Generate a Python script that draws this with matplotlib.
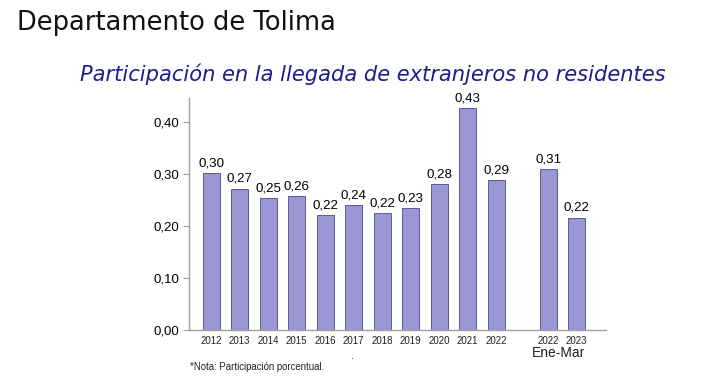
import matplotlib.pyplot as plt

# data
YEARS = ["2012", "2013", "2014", "2015", "2016", "2017", "2018", "2019", "2020", "2021", "2022",
         "2022", "2023"]
VALUES = [0.302, 0.272, 0.253, 0.257, 0.221, 0.240, 0.225, 0.234, 0.280, 0.427, 0.288,
          0.310, 0.216]
LABELS = ["0,30", "0,27", "0,25", "0,26", "0,22", "0,24", "0,22", "0,23", "0,28", "0,43", "0,29",
          "0,31", "0,22"]
POSITIONS = [0, 1, 2, 3, 4, 5, 6, 7, 8, 9, 10, 11.82, 12.82]
Y_TICKS = [0.0, 0.1, 0.2, 0.3, 0.4]
Y_TICK_LABELS = ["0,00", "0,10", "0,20", "0,30", "0,40"]

BAR_COLOR = "#9b97d5"
EDGE_COLOR = "#5b5a95"
AXIS_COLOR = "#a0a0a0"
SUBTITLE_COLOR = "#1c1c8c"


def main():
    fig = plt.figure(figsize=(7.2, 3.91), dpi=100)
    ax = fig.add_axes([189 / 720, 1 - 330 / 391, (606 - 189) / 720, (330 - 98) / 391])

    ax.bar(POSITIONS, VALUES, width=0.6, color=BAR_COLOR, edgecolor=EDGE_COLOR, linewidth=0.7)
    for x, v, lab in zip(POSITIONS, VALUES, LABELS):
        ax.text(x, v + 0.007, lab, ha="center", va="bottom", fontsize=9.6, family="Liberation Sans")

    ax.set_xlim(-0.78, 13.85)
    ax.set_ylim(0, 0.446)
    ax.set_yticks(Y_TICKS)
    ax.set_yticklabels(Y_TICK_LABELS, fontsize=9.5, family="Liberation Sans")
    ax.set_xticks(POSITIONS)
    ax.set_xticklabels(YEARS, fontsize=7, family="Liberation Sans", color="#222222")
    ax.tick_params(axis="x", length=0, pad=4)
    ax.tick_params(axis="y", length=4, color=AXIS_COLOR, pad=3)

    for side in ["top", "right"]:
        ax.spines[side].set_visible(False)
    for side in ["left", "bottom"]:
        ax.spines[side].set_color(AXIS_COLOR)
        ax.spines[side].set_linewidth(1.0)

    fig.text(17 / 720, 1 - 23 / 391, "Departamento de Tolima", fontsize=18.5, va="center",
             family="DejaVu Sans", color="#111111")
    fig.text(373 / 720, 1 - 74 / 391, "Participación en la llegada de extranjeros no residentes",
             fontsize=15.1, va="center", ha="center", style="italic", family="DejaVu Sans",
             color=SUBTITLE_COLOR)
    fig.text(559 / 720, 1 - 353 / 391, "Ene-Mar", fontsize=10, ha="center", va="center",
             family="Liberation Sans", color="#222222")
    fig.text(190 / 720, 1 - 367 / 391, "*Nota: Participación porcentual.", fontsize=6.9, va="center",
             family="Liberation Sans", color="#222222")
    fig.text(352 / 720, 1 - 356 / 391, ".", fontsize=7, ha="center", va="center", color="#444444")

    fig.savefig("out.png", dpi=100)


if __name__ == "__main__":
    main()
